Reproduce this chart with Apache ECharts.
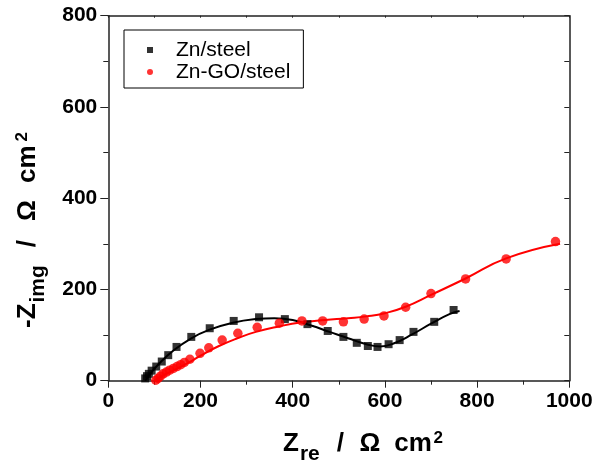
<!DOCTYPE html>
<html>
<head>
<meta charset="utf-8">
<script src="https://cdn.jsdelivr.net/npm/echarts@6/dist/echarts.min.js"></script>
<style>
  html, body { margin: 0; padding: 0; background: #fff; }
  #chart { width: 605px; height: 467px; }
</style>
</head>
<body>
<div id="chart"></div>
<script>
// measured points, [Zre, -Zimg]
var znSteel = [
  [80, 5], [84, 10], [88, 15], [94, 22], [104, 31], [116, 42], [130, 56], [148, 74],
  [180, 96], [220, 115], [272, 131], [327, 139], [383, 135], [432, 124], [476, 109],
  [510, 96], [539, 83], [563, 76], [584, 74], [608, 80], [632, 89], [662, 107],
  [707, 129], [749, 155]
];
var znGoSteel = [
  [103, 1], [108, 5], [113, 10], [119, 15], [126, 19], [133, 23], [141, 27], [149, 31],
  [157, 35], [165, 40], [177, 47], [199, 60], [218, 72], [247, 89], [281, 104],
  [323, 117], [371, 126], [420, 131], [465, 131], [510, 129], [555, 135], [598, 142],
  [645, 161], [700, 191], [775, 223], [863, 267], [970, 305]
];
// fitted curves
var znSteelFit = [
  [80, 0], [90, 14], [110, 37], [140, 65], [180, 93], [220, 112], [270, 127], [320, 135],
  [360, 137], [400, 133], [440, 121], [480, 107], [520, 93], [560, 80], [590, 75],
  [620, 82], [660, 102], [700, 125], [740, 146], [762, 153]
];
var znGoSteelFit = [
  [100, 0], [120, 12], [150, 27], [175, 40], [200, 55], [240, 76], [280, 93], [320, 107],
  [370, 119], [420, 128], [470, 133], [520, 137], [560, 141], [600, 148], [645, 162],
  [700, 188], [775, 224], [863, 268], [980, 300]
];

var font = "'Liberation Sans', Arial, sans-serif";
var axisColor = '#222';

// gaps: [before slash, after slash, after omega, before superscript]
function titleRich(gaps) {
  var base = { fontWeight: 'bold', fontFamily: font, color: '#000' };
  return {
    b: Object.assign({ fontSize: 26, lineHeight: 26 }, base),
    s: Object.assign({ fontSize: 21, lineHeight: 21, padding: [20, 0, 0, 1] }, base),
    sl: Object.assign({ fontSize: 26, lineHeight: 26, padding: [0, gaps[1], 0, gaps[0]] }, base),
    om: Object.assign({ fontSize: 26, lineHeight: 26, padding: [0, gaps[2], 0, 0] }, base),
    p: Object.assign({ fontSize: 17, lineHeight: 17, padding: [0, 0, 12, gaps[3]] }, base)
  };
}

function frameAxis(pos, max, interval) {
  return {
    type: 'value', position: pos, min: 0, max: max, interval: interval,
    axisLine: { show: true, onZero: false, lineStyle: { color: axisColor, width: 1.5 } },
    axisTick: { show: true, inside: true, length: pos === 'top' ? 2 : 5, lineStyle: { color: axisColor, width: 1 } },
    axisLabel: { show: false },
    splitLine: { show: false }
  };
}

var chart = echarts.init(document.getElementById('chart'));
chart.setOption({
  animation: false,
  backgroundColor: '#fff',
  grid: { left: 108.3, right: 35.7, top: 15.7, bottom: 86.3 },
  xAxis: [{
    type: 'value', min: 0, max: 1000, interval: 200,
    axisLine: { show: true, onZero: false, lineStyle: { color: axisColor, width: 1.5 } },
    axisTick: { show: true, inside: false, length: 7, lineStyle: { color: axisColor, width: 1 } },
    minorTick: { show: true, splitNumber: 2, length: 4, lineStyle: { color: axisColor, width: 1 } },
    axisLabel: { margin: 10, color: '#000', fontSize: 21, fontWeight: 'bold', fontFamily: font,
      formatter: function (v) { return String(v); } },
    splitLine: { show: false }
  }, frameAxis('top', 1000, 100)],
  yAxis: [{
    type: 'value', min: 0, max: 800, interval: 200,
    axisLine: { show: true, onZero: false, lineStyle: { color: axisColor, width: 1.5 } },
    axisTick: { show: true, inside: false, length: 8, lineStyle: { color: axisColor, width: 1 } },
    minorTick: { show: true, splitNumber: 2, length: 5, lineStyle: { color: axisColor, width: 1 } },
    axisLabel: { margin: 11, color: '#000', fontSize: 21, fontWeight: 'bold', fontFamily: font },
    splitLine: { show: false }
  }, frameAxis('right', 800, 100)],
  legend: {
    data: [
      { name: 'Zn/steel', icon: 'rect' },
      { name: 'Zn-GO/steel', icon: 'circle' }
    ],
    orient: 'vertical', left: 124, top: 30,
    itemWidth: 6, itemHeight: 6, itemGap: 1,
    padding: [9.5, 13, 5.5, 23],
    borderColor: '#000', borderWidth: 1,
    selectedMode: false,
    textStyle: { fontSize: 21, lineHeight: 21, color: '#000', fontFamily: font, padding: [0, 0, 0, 18] }
  },
  graphic: [{
    type: 'text', x: 283, y: 444,
    style: {
      text: '{b|Z}{s|re}{sl|/}{om|\u03A9}{b|cm}{p|2}', rich: titleRich([17, 15.5, 14, 1.5]),
      textAlign: 'left', textVerticalAlign: 'middle'
    }
  }, {
    type: 'text', x: 28, y: 328, rotation: Math.PI / 2,
    style: {
      text: '{b|-Z}{s|img}{sl|/}{om|\u03A9}{b|cm}{p|2}', rich: titleRich([18, 19, 17, 4]),
      textAlign: 'left', textVerticalAlign: 'middle'
    }
  }],
  series: [{
    name: 'Zn/steel fit', type: 'line', data: znSteelFit, smooth: true,
    showSymbol: false, lineStyle: { color: '#000', width: 2 }, z: 2
  }, {
    name: 'Zn-GO/steel fit', type: 'line', data: znGoSteelFit, smooth: true,
    showSymbol: false, lineStyle: { color: '#ff0000', width: 2 }, z: 2
  }, {
    name: 'Zn/steel', type: 'scatter', data: znSteel, symbol: 'rect', symbolSize: 8,
    itemStyle: { color: '#000' }, z: 3
  }, {
    name: 'Zn-GO/steel', type: 'scatter', data: znGoSteel, symbol: 'circle', symbolSize: 9.5,
    itemStyle: { color: '#ff0000' }, z: 3
  }]
});
</script>
</body>
</html>
